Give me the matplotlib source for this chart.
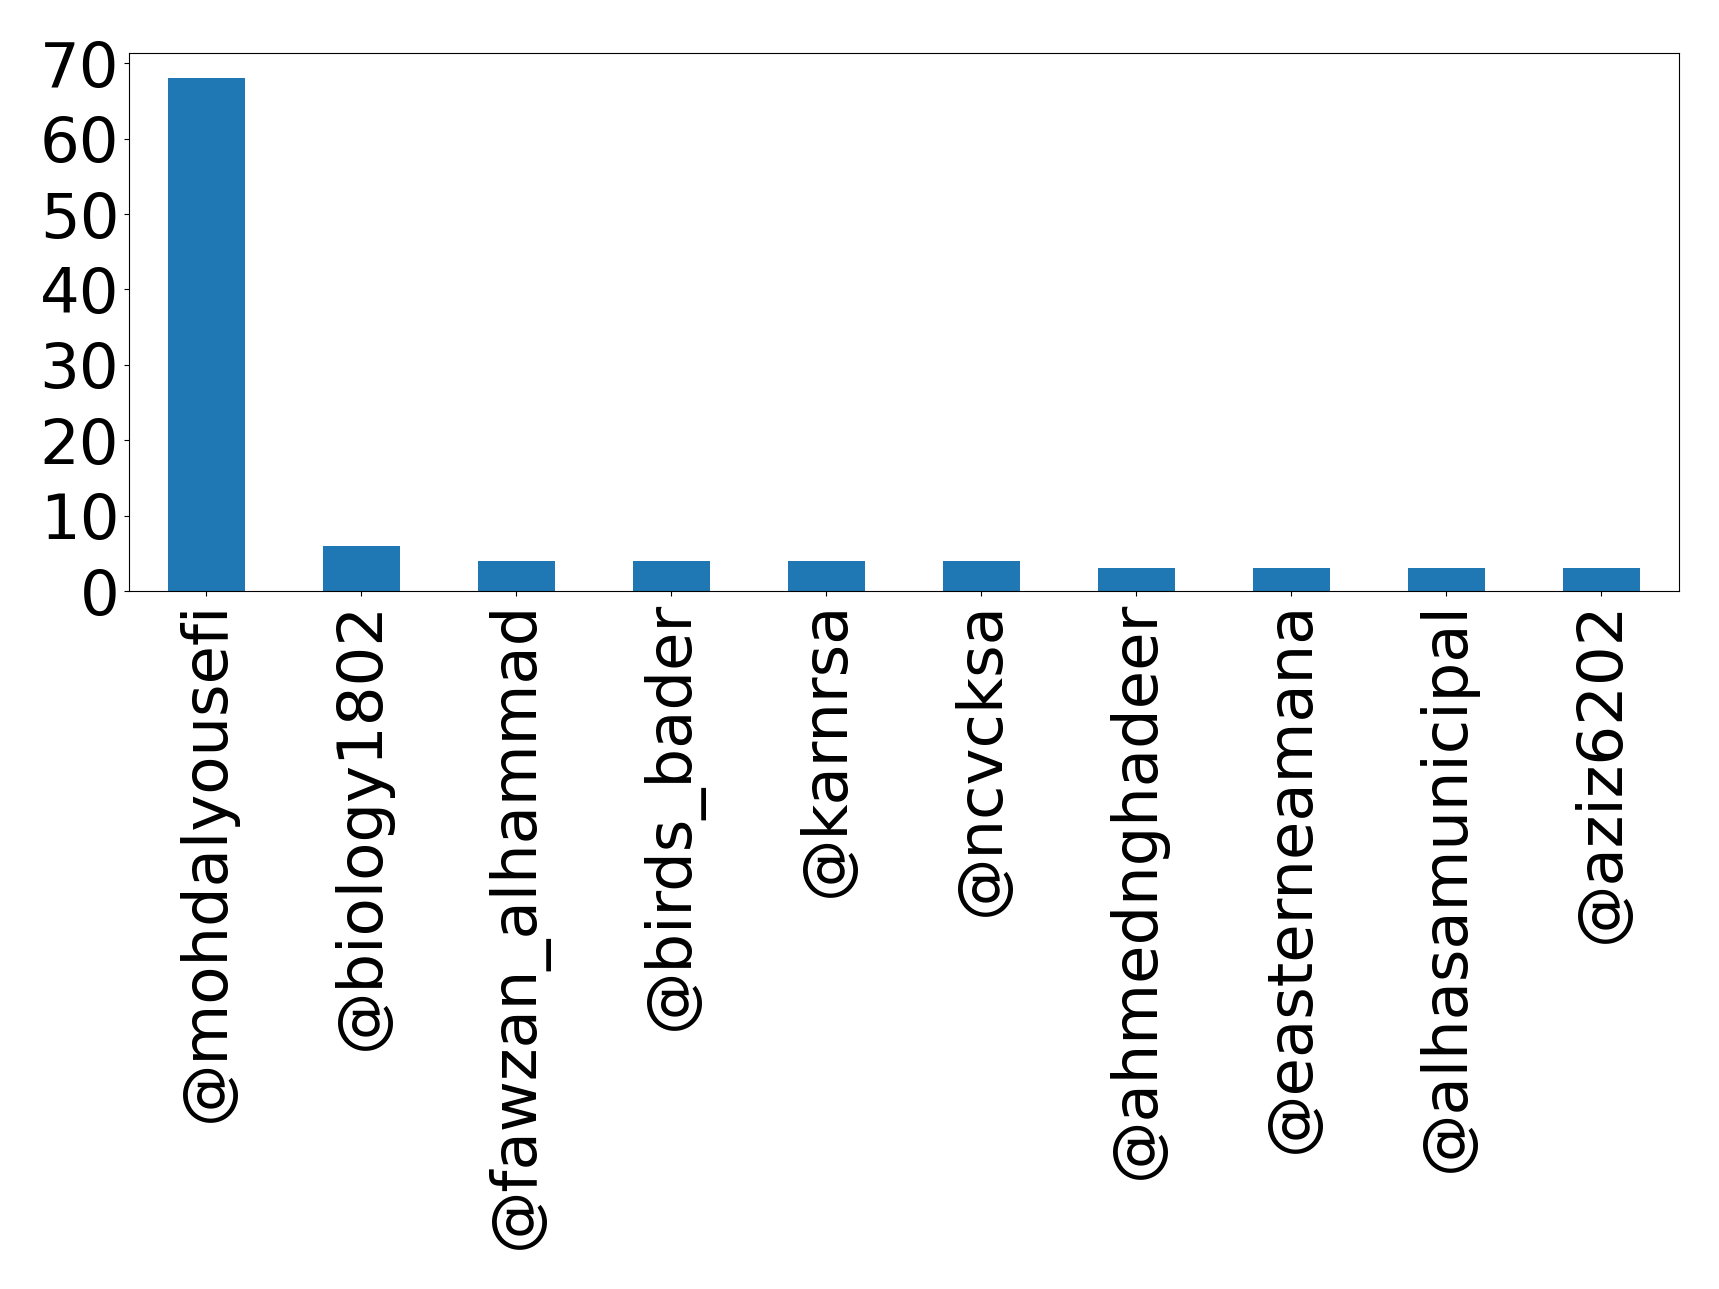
import matplotlib
matplotlib.use("Agg")
import matplotlib.pyplot as plt
import numpy as np

# mention counts per account
accounts = ["@mohdalyousefi", "@biology1802", "@fawzan_alhammad", "@birds_bader",
            "@karnrsa", "@ncvcksa", "@ahmednghadeer", "@easterneamana",
            "@alhasamunicipal", "@aziz6202"]
counts = [68, 6, 4, 4, 4, 4, 3, 3, 3, 3]

fig, ax = plt.subplots(figsize=(17.19, 12.89), dpi=100)
fig.subplots_adjust(left=0.075, right=0.9767, top=0.9591, bottom=0.5415)

x = np.arange(len(accounts))
ax.bar(x, counts, width=0.5, color="#1f77b4")
ax.set_xlim(-0.5, len(accounts) - 0.5)
ax.set_xticks(x)
ax.set_xticklabels(accounts, rotation=90)
ax.set_yticks(range(0, 71, 10))
ax.tick_params(axis="both", labelsize=45)

fig.savefig("out.png", dpi=100)
